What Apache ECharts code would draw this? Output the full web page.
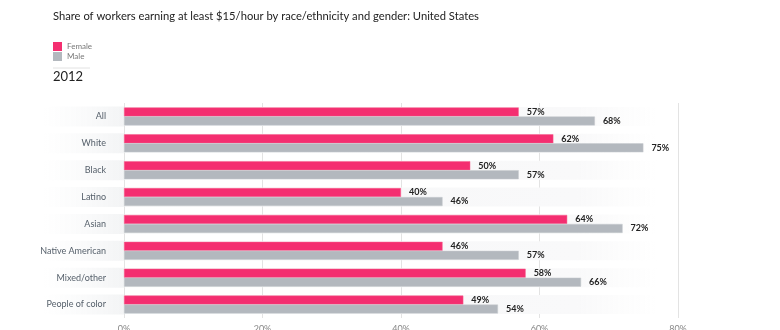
<!DOCTYPE html>
<html><head><meta charset="utf-8">
<script src="https://cdn.jsdelivr.net/npm/echarts@6/dist/echarts.min.js"></script>
<style>html,body{margin:0;padding:0;background:#fff}#c{width:780px;height:330px}</style>
</head><body><div id="c"></div>
<script>
const categories = ['All','White','Black','Latino','Asian','Native American','Mixed/other','People of color'];
const female = [57,62,50,40,64,46,58,49];
const male = [68,75,57,46,72,57,66,54];
const bandValues = [77,77,77,77,77,77,77,77];
const xTicks = [0,20,40,60,80];

const FONT = 'Lato';
const chart = echarts.init(document.getElementById('c'));
chart.setOption({
  animation:false,
  textStyle:{fontFamily:FONT},
  title:[
    {text:'Share of workers earning at least $15/hour by race/ethnicity and gender: United States',
     left:53, top:11, padding:0, textStyle:{fontFamily:FONT,fontSize:11.2,fontWeight:'normal',color:'#222'}},
    {text:'2012', left:53, top:70, padding:0, textStyle:{fontFamily:FONT,fontSize:13,fontWeight:'normal',color:'#222'}}
  ],
  legend:{orient:'vertical', left:53, top:42, padding:0, itemWidth:9, itemHeight:9, itemGap:1,
    icon:'rect', data:['Female','Male'], itemStyle:{borderWidth:0},
    textStyle:{fontFamily:FONT,fontSize:8,color:'#777'}},
  graphic:[{type:'line', shape:{x1:53,y1:68,x2:90,y2:68}, style:{stroke:'#e2e2e2',lineWidth:1}}],
  grid:{left:124, right:102, top:103, bottom:12, containLabel:false, outerBoundsMode:'none'},
  xAxis:{type:'value', min:0, max:80, interval:20,
    axisLine:{show:false}, axisTick:{show:false},
    splitLine:{lineStyle:{color:'#e3e3e3'}},
    axisLabel:{formatter:'{value}%', color:'#888', fontSize:9, margin:7, fontFamily:FONT}},
  yAxis:[
    {type:'category', data:categories, inverse:true,
     axisLine:{show:false}, axisTick:{show:false}, splitLine:{show:false},
     axisLabel:{color:'#56606b', fontSize:9, fontFamily:FONT, margin:0, width:62, align:'right',
       overflow:'none', padding:[5,18,5,0], lineHeight:10,
       backgroundColor:{type:'linear',x:0,y:0,x2:1,y2:0,
         colorStops:[{offset:0,color:'rgba(246,247,248,0)'},{offset:1,color:'#f3f4f5'}]}}},
    {type:'category', data:categories, inverse:true, show:false}
  ],
  series:[
    {name:'band', type:'bar', yAxisIndex:1, data:bandValues, barWidth:19, silent:true, z:0,
     itemStyle:{color:{type:'linear',x:0,y:0,x2:1,y2:0,
       colorStops:[{offset:0,color:'#f6f7f8'},{offset:0.85,color:'#f9f9fa'},{offset:1,color:'rgba(250,250,250,0)'}]}},
     label:{show:false}},
    {name:'Female', type:'bar', data:female, barWidth:9, barGap:'0%', z:2,
     itemStyle:{color:'#f42e70', borderColor:'#f7628f', borderWidth:0.5},
     label:{show:true, position:'right', distance:8, formatter:'{c}%', color:'#222', fontSize:9, fontWeight:'bold', fontFamily:FONT}},
    {name:'Male', type:'bar', data:male, barWidth:9, barGap:'0%', z:2,
     itemStyle:{color:'#b3b8be', borderColor:'#c6cacf', borderWidth:0.5},
     label:{show:true, position:'right', distance:8, formatter:'{c}%', color:'#222', fontSize:9, fontWeight:'bold', fontFamily:FONT}}
  ]
});
</script></body></html>
